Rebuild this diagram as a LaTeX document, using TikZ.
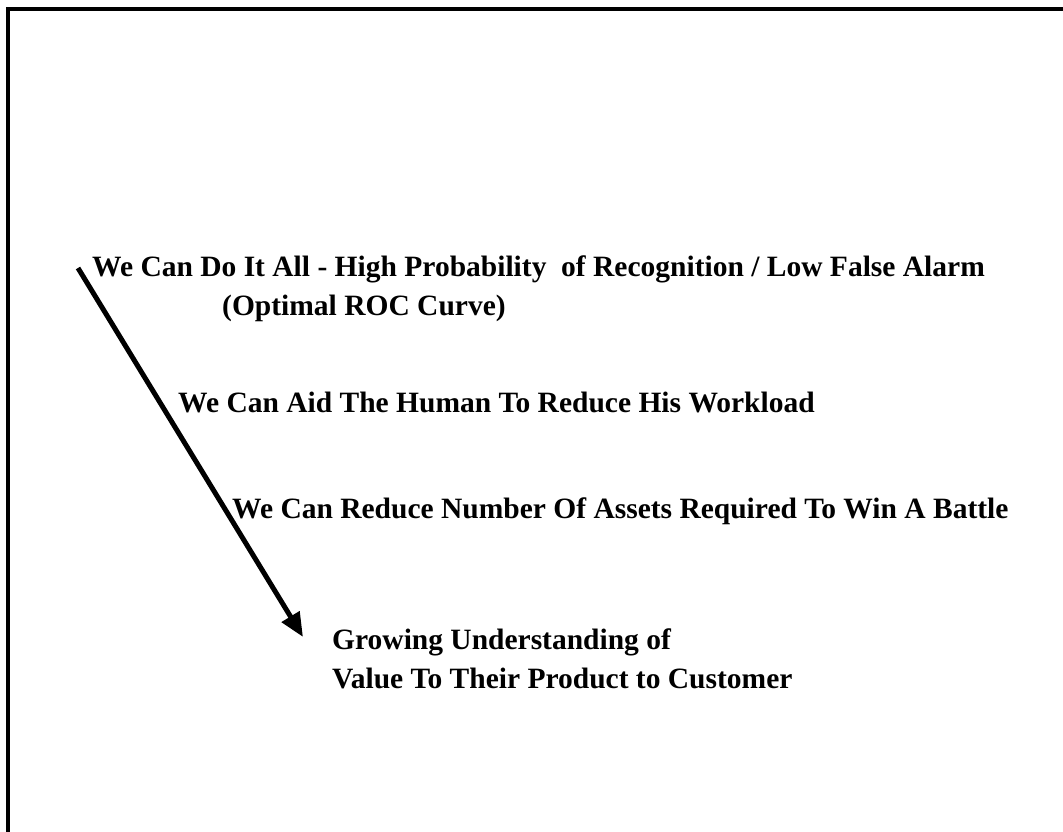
\documentclass[tikz,border=0pt]{standalone}
\usepackage{fontspec}
\setmainfont{Liberation Serif}
\usetikzlibrary{arrows.meta}
\begin{document}
\begin{tikzpicture}[x=1pt,y=-1pt,
  lbl/.style={anchor=base west,inner sep=0pt,font=\fontsize{29.5}{35}\selectfont\bfseries},
  frame/.style={line width=4pt},
  bigarrow/.style={line width=5pt,-{Triangle[length=24pt,width=20pt]}}]
\useasboundingbox (0,0) rectangle (1063,832);
\draw[frame] (8,832) -- (8,9) -- (1063,9);
\node[lbl] (l1) at (92,276) {We Can Do It All - High Probability\ \ of Recognition / Low False Alarm};
\node[lbl] (l2) at (222,315) {(Optimal ROC Curve)};
\node[lbl] (l3) at (178,412) {We Can Aid The Human To Reduce His Workload};
\node[lbl] (l4) at (232,518) {We Can Reduce Number Of Assets Required To Win A Battle};
\node[lbl] (l5) at (332,649) {Growing Understanding of};
\node[lbl] (l6) at (332,688) {Value To Their Product to Customer};
\coordinate (s) at (78,268);
\coordinate (e) at (303,637);
\draw[bigarrow] (s) -- (e);
\end{tikzpicture}
\end{document}
